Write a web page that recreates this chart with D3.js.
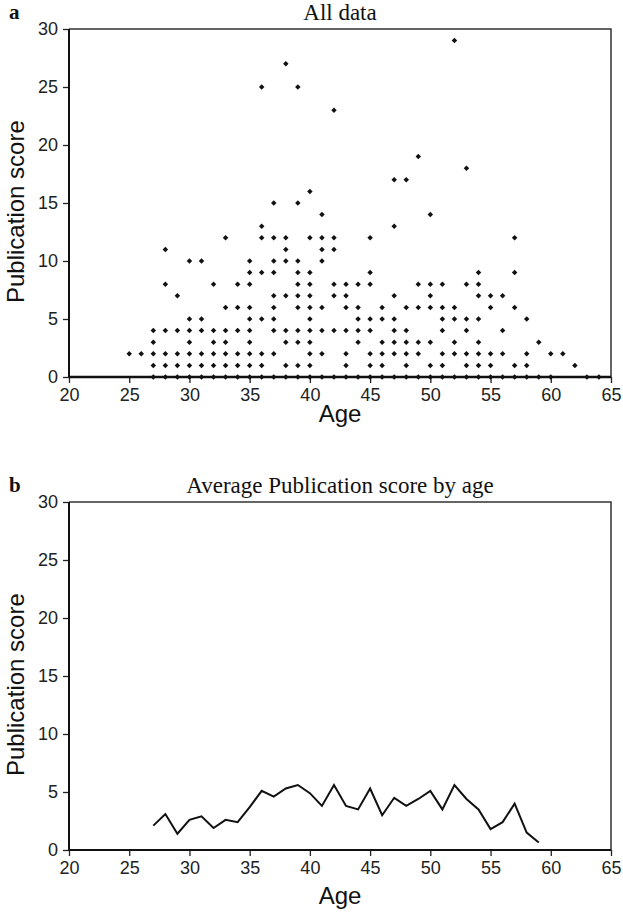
<!DOCTYPE html>
<meta charset="utf-8">
<script src="https://d3js.org/d3.v7.min.js"></script>
<style>
body { margin: 0; background: #fff; }
.tick text { font-family: "Liberation Sans", Arial, sans-serif; font-size: 18px; fill: #222; }
.tick line { stroke: #222; stroke-width: 1.3px; }
.axis-title { font-family: "Liberation Sans", Arial, sans-serif; font-size: 24px; fill: #111; }
.chart-title { font-family: "Liberation Serif", "Times New Roman", serif; font-size: 23px; fill: #111; }
.panel-letter { font-family: "Liberation Serif", "Times New Roman", serif; font-size: 21px; font-weight: bold; fill: #111; }
</style>
<div id="my_dataviz"></div>
<script>

// scatter data: ages and the publication scores seen at each age
var scatterAges = [25, 26, 27, 28, 29, 30, 31, 32, 33, 34, 35, 36, 37, 38, 39, 40, 41, 42, 43, 44,
                   45, 46, 47, 48, 49, 50, 51, 52, 53, 54, 55, 56, 57, 58, 59, 60, 61, 62, 63, 64];
var scatterScores = [
  [2], [2], [0,1,2,3,4], [0,1,2,4,8,11], [0,1,2,4,7], [0,1,2,3,4,5,10], [0,1,2,4,5,10],
  [0,1,2,3,4,8], [0,1,2,3,4,6,12], [0,1,2,4,6,8], [0,1,2,3,4,5,6,8,9,10],
  [0,1,2,5,9,12,13,25], [0,2,4,5,6,7,9,10,12,15], [0,1,3,4,7,10,11,12,27],
  [0,1,3,4,6,7,8,9,10,15,25], [0,1,2,3,4,5,6,7,8,9,12,16], [0,2,4,6,10,11,12,14],
  [0,4,7,8,11,12,23], [0,1,2,4,6,7,8], [0,3,4,5,6,8], [0,1,2,4,5,8,9,12], [0,1,2,3,5,6],
  [0,2,3,4,5,7,13,17], [0,1,2,3,4,6,17], [0,2,3,6,8,19], [0,1,3,6,7,8,14], [0,1,2,4,5,6,8],
  [0,2,3,5,6,29], [0,1,2,4,5,8,18], [0,1,2,3,5,7,8,9], [0,1,2,6,7], [0,2,4,7], [0,1,6,9,12],
  [0,1,2,5], [0,3], [0,2], [2], [1], [0], [0]
];

// average publication score by age
var avgAges = [27, 28, 29, 30, 31, 32, 33, 34, 35, 36, 37, 38, 39, 40, 41, 42, 43,
               44, 45, 46, 47, 48, 49, 50, 51, 52, 53, 54, 55, 56, 57, 58, 59];
var avgScores = [2.1, 3.1, 1.4, 2.6, 2.9, 1.9, 2.6, 2.4, 3.7, 5.1, 4.6, 5.3, 5.6, 4.9, 3.8, 5.6, 3.8,
                 3.5, 5.3, 3.0, 4.5, 3.8, 4.4, 5.1, 3.5, 5.6, 4.4, 3.5, 1.8, 2.4, 4.0, 1.5, 0.65];

var xTicks = [20, 25, 30, 35, 40, 45, 50, 55, 60, 65];
var yTicks = [0, 5, 10, 15, 20, 25, 30];

var width = 623, height = 915;
var plotLeft = 69, plotRight = 611, plotH = 348;
var panels = [
  {letter: "a", title: "All data", top: 29, ageGap: 45},
  {letter: "b", title: "Average Publication score by age", top: 502, ageGap: 54}
];

var svg = d3.select("#my_dataviz").append("svg")
    .attr("width", width)
    .attr("height", height);

var x = d3.scaleLinear().domain([20, 65]).range([plotLeft, plotRight]);

panels.forEach(function(p, i) {
  var y = d3.scaleLinear().domain([0, 30]).range([p.top + plotH, p.top]);
  var g = svg.append("g");

  // panel letter and title
  g.append("text").attr("class", "panel-letter").attr("x", 9).attr("y", p.top - 10).text(p.letter);
  g.append("text").attr("class", "chart-title")
    .attr("x", (plotLeft + plotRight) / 2).attr("y", p.top - 9)
    .attr("text-anchor", "middle").text(p.title);

  // frame top and right
  g.append("path")
    .attr("d", "M" + plotLeft + "," + p.top + "H" + plotRight + "V" + (p.top + plotH))
    .attr("fill", "none").attr("stroke", "#333").attr("stroke-width", 1.5);

  // axes
  var yAxis = g.append("g")
    .attr("transform", "translate(" + plotLeft + ",0)")
    .call(d3.axisLeft(y).tickValues(yTicks).tickSize(6).tickPadding(5));
  yAxis.select(".domain").remove();

  var xAxis = g.append("g")
    .attr("transform", "translate(0," + (p.top + plotH) + ")")
    .call(d3.axisBottom(x).tickValues(xTicks).tickSize(6).tickPadding(5));
  xAxis.select(".domain").remove();

  g.append("line")
    .attr("x1", plotLeft).attr("x2", plotLeft)
    .attr("y1", p.top).attr("y2", p.top + plotH)
    .attr("stroke", "#111").attr("stroke-width", 2);
  g.append("line")
    .attr("x1", plotLeft).attr("x2", plotRight)
    .attr("y1", p.top + plotH).attr("y2", p.top + plotH)
    .attr("stroke", "#111").attr("stroke-width", i == 0 ? 2.5 : 2);

  // axis titles
  g.append("text").attr("class", "axis-title")
    .attr("x", (plotLeft + plotRight) / 2).attr("y", p.top + plotH + p.ageGap)
    .attr("text-anchor", "middle").text("Age");
  g.append("text").attr("class", "axis-title")
    .attr("transform", "translate(24," + (p.top + 274) + ") rotate(-90)")
    .attr("text-anchor", "start").text("Publication score");

  if (i == 0) {
    var points = [];
    scatterAges.forEach(function(a, k) {
      scatterScores[k].forEach(function(s) { points.push({age: a, score: s}); });
    });
    g.append("g").selectAll("path")
      .data(points)
      .enter().append("path")
      .attr("d", d3.symbol().type(d3.symbolSquare).size(15))
      .attr("transform", function(d) {
        return "translate(" + x(d.age) + "," + y(d.score) + ") rotate(45)";
      })
      .attr("fill", "#111");
  } else {
    var line = d3.line()
      .x(function(d, k) { return x(avgAges[k]); })
      .y(function(d) { return y(d); });
    g.append("path")
      .datum(avgScores)
      .attr("d", line)
      .attr("fill", "none")
      .attr("stroke", "#111")
      .attr("stroke-width", 2);
  }
});

</script>
